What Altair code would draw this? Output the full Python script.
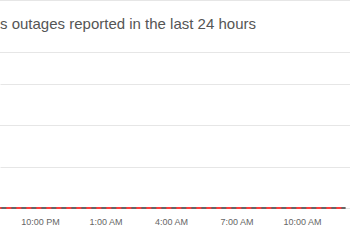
import altair as alt
import pandas as pd

# Data: reported outages (all zero) over the visible time window
times = [
    "2024-05-01T20:00:00Z", "2024-05-01T21:00:00Z", "2024-05-01T22:00:00Z",
    "2024-05-01T23:00:00Z", "2024-05-02T00:00:00Z", "2024-05-02T01:00:00Z",
    "2024-05-02T02:00:00Z", "2024-05-02T03:00:00Z", "2024-05-02T04:00:00Z",
    "2024-05-02T05:00:00Z", "2024-05-02T06:00:00Z", "2024-05-02T07:00:00Z",
    "2024-05-02T08:00:00Z", "2024-05-02T09:00:00Z", "2024-05-02T10:00:00Z",
    "2024-05-02T11:00:00Z", "2024-05-02T12:00:00Z",
]
reports = [0, 0, 0, 0, 0, 0, 0, 0, 0, 0, 0, 0, 0, 0, 0, 0, 0]
baseline = [0, 0, 0, 0, 0, 0, 0, 0, 0, 0, 0, 0, 0, 0, 0, 0, 0]
tick_times = [(2024, 5, 1, 22), (2024, 5, 2, 1), (2024, 5, 2, 4), (2024, 5, 2, 7), (2024, 5, 2, 10)]
title_text = "s outages reported in the last 24 hours"

df = pd.DataFrame({"time": times, "reports": reports, "baseline": baseline})

x_scale = alt.Scale(
    type="utc",
    domain=[
        alt.DateTime(year=2024, month=5, date=1, hours=20, minutes=10, utc=True),
        alt.DateTime(year=2024, month=5, date=2, hours=12, minutes=12, utc=True),
    ],
)
x_axis = alt.Axis(
    title=None,
    values=[alt.DateTime(year=y, month=m, date=d, hours=h, utc=True) for (y, m, d, h) in tick_times],
    labelExpr="utcFormat(datum.value, '%-I:%M %p')",
    grid=False,
    domain=False,
    ticks=False,
    tickSize=0,
    labelPadding=9,
    labelFontSize=9,
    labelColor="#666666",
    labelFont="Liberation Sans",
)
y_scale = alt.Scale(domain=[0, 3])
y_axis = alt.Axis(
    title=None, values=[0, 1, 2, 3], labels=False, ticks=False, domain=False,
    grid=True, gridColor="#e6e6e6", gridWidth=1,
)

base = alt.Chart(df)

gray = base.mark_line(color="#666666", strokeWidth=2).encode(
    x=alt.X("time:T", scale=x_scale, axis=x_axis),
    y=alt.Y("baseline:Q", scale=y_scale, axis=y_axis),
)
red = base.mark_line(color="#ff3b3b", strokeWidth=2, strokeDash=[5, 5]).encode(
    x=alt.X("time:T", scale=x_scale),
    y=alt.Y("reports:Q", scale=y_scale),
)

one = alt.Chart(pd.DataFrame({"k": [0]}))
sep_lines = [
    one.mark_rule(color="#e6e6e6", strokeWidth=1).encode(
        x=alt.value(0), x2=alt.value(350), y=alt.value(yv)
    )
    for yv in [-83.5, -31.5, 41.5]
]
title = one.mark_text(
    align="left", baseline="alphabetic", fontSize=15, color="#555555", font="Liberation Sans"
).encode(x=alt.value(0), y=alt.value(-55), text=alt.value(title_text))

chart = alt.layer(gray, red, *sep_lines, title).properties(
    width=350,
    height=124,
    autosize=alt.AutoSizeParams(type="none"),
    padding={"left": 0, "right": 0, "top": 84, "bottom": 42},
).configure_view(stroke=None)

chart.save("out.html", embed_options={"renderer": "svg", "actions": False})
